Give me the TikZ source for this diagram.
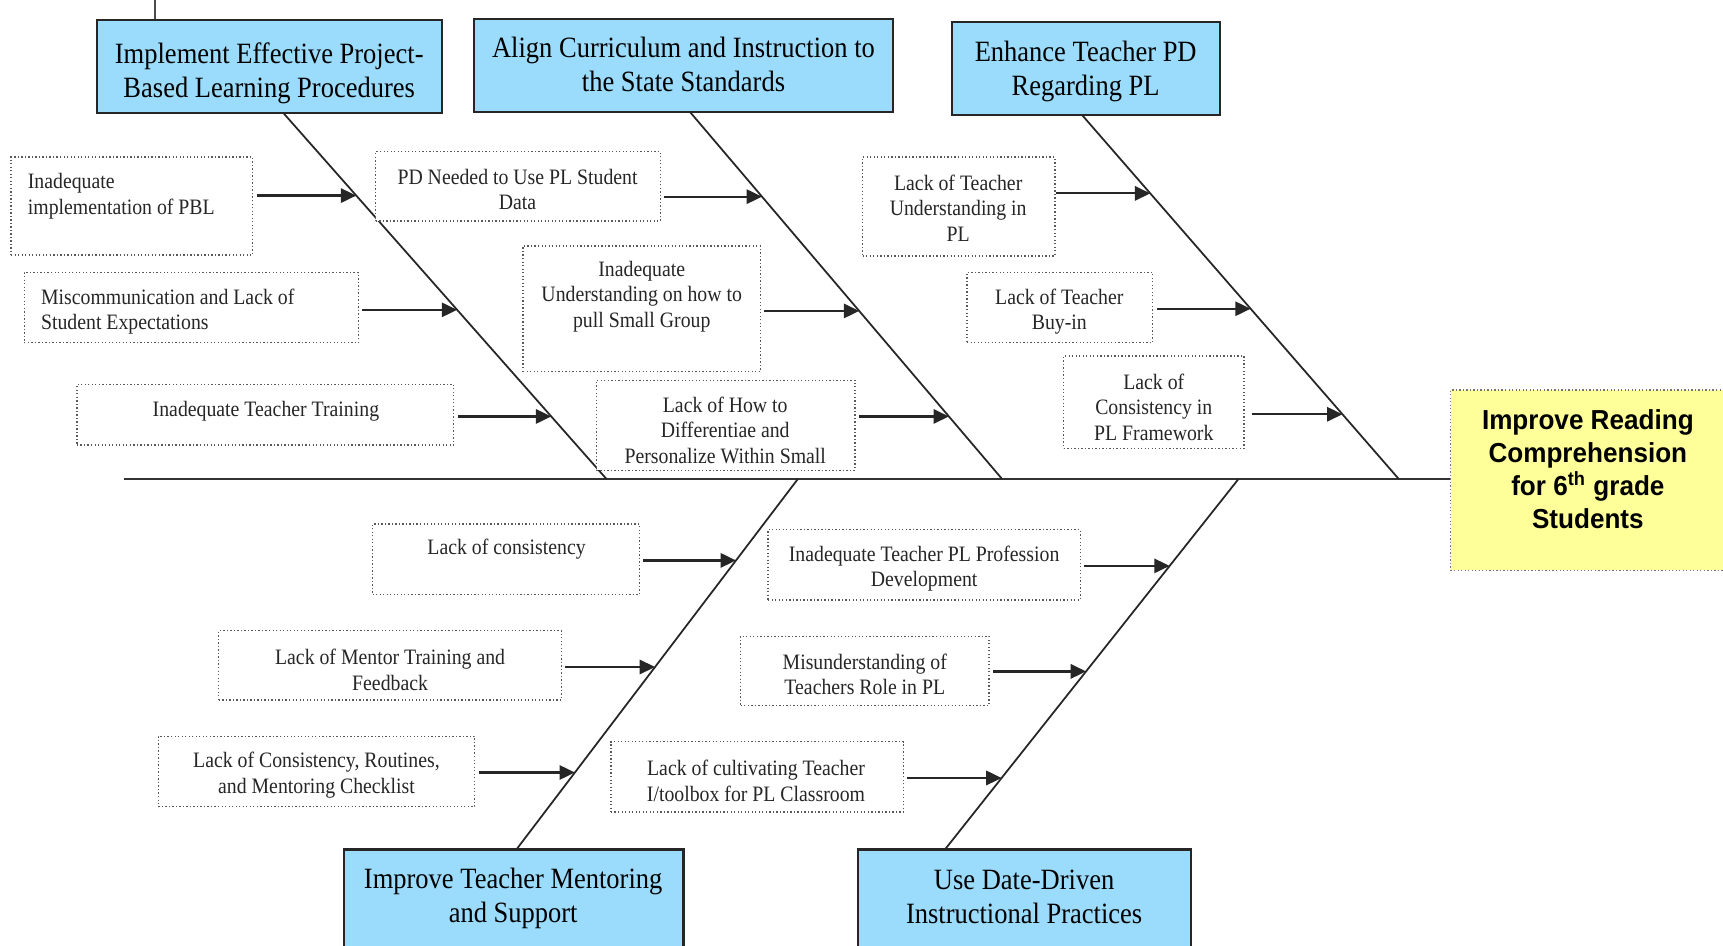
\documentclass[tikz,border=0pt]{standalone}
\usepackage{fontspec}
\setmainfont[FakeStretch=0.9]{Liberation Serif}
\newfontfamily\effsans[FakeStretch=0.95]{Liberation Sans}
\usetikzlibrary{fit,calc,arrows.meta}
\definecolor{catblue}{RGB}{155,220,252}
\definecolor{effyellow}{RGB}{255,255,153}
\tikzset{
  catbox/.style={draw=black!85, line width=1pt, fill=catblue, inner sep=0pt},
  causebox/.style={draw=black!65, densely dotted, line width=0.6pt, fill=white, inner sep=0pt},
  effbox/.style={draw=black!55, densely dotted, line width=0.6pt, fill=effyellow, inner sep=0pt},
  cattext/.style={align=center, inner sep=0pt, yshift=-2pt, font=\fontsize{13.4pt}{15.5pt}\selectfont},
  causetext/.style={align=center, inner sep=0pt, yshift=-1pt, font=\fontsize{10pt}{11.5pt}\selectfont, text=black!85},
  causeleft/.style={causetext, align=left, anchor=west},
  efftext/.style={align=center, inner sep=0pt, font=\effsans\bfseries\fontsize{12.5pt}{15pt}\selectfont},
  bone/.style={line width=0.8pt, draw=black!85},
  spine/.style={line width=1.2pt, draw=black!80},
  arr/.style={line width=1pt, draw=black!85, -{Triangle[length=7pt,width=6.5pt]}},
}
\begin{document}
\begin{tikzpicture}[x=0.5pt,y=-0.5pt]
\useasboundingbox (0,0) rectangle (1568,860);
\clip (0,0) rectangle (1568,860);
\fill[white] (0,0) rectangle (1568,860);

% category boxes
\node[catbox, fit={(88,18) (402,103)}] (b1) {};
\node[cattext] (b1t) at (245,63) {Implement Effective Project-\\Based Learning Procedures};
\node[catbox, fit={(431,17) (813,102)}] (b2) {};
\node[cattext] (b2t) at (622,55) {Align Curriculum and Instruction to\\the State Standards};
\node[catbox, fit={(866,20) (1110,105)}] (b3) {};
\node[cattext] (b3t) at (988,61) {Enhance Teacher PD\\Regarding PL};
\node[catbox, fit={(313,773) (622,880)}] (b4) {};
\node[cattext] (b4t) at (467,814) {Improve Teacher Mentoring\\and Support};
\node[catbox, fit={(781,773) (1084,880)}] (b5) {};
\node[cattext] (b5t) at (932,812) {Use Date-Driven\\Instructional Practices};

% stray tick above first box
\coordinate (tick) at (141,0);
\draw[line width=0.6pt, draw=black!70] (tick) -- (tick |- b1.north);

% effect
\node[effbox, fit={(1320,355) (1585,519)}] (eff) {};
\node[efftext] (efft) at (1445,427) {Improve Reading\\Comprehension\\for 6\textsuperscript{th} grade\\Students};

% spine
\coordinate (spl) at (113,436);
\draw[spine] (spl) -- (eff.west |- spl);

% bones
\coordinate (t1) at (258,103);  \coordinate (s1) at (552,436);
\coordinate (t2) at (628,102);  \coordinate (s2) at (912,436);
\coordinate (t3) at (985,105);  \coordinate (s3) at (1273,436);
\coordinate (u4) at (470,773);  \coordinate (s4) at (726,436);
\coordinate (u5) at (860,773);  \coordinate (s5) at (1127,436);
\draw[bone] (t1) -- (s1);
\draw[bone] (t2) -- (s2);
\draw[bone] (t3) -- (s3);
\draw[bone] (u4) -- (s4);
\draw[bone] (u5) -- (s5);

% arrow ends on bones
\coordinate (a11) at ($(t1)!0.2252!(s1)$);
\coordinate (a12) at ($(t1)!0.5375!(s1)$);
\coordinate (a13) at ($(t1)!0.8288!(s1)$);
\coordinate (a21) at ($(t2)!0.2305!(s2)$);
\coordinate (a22) at ($(t2)!0.5419!(s2)$);
\coordinate (a23) at ($(t2)!0.8293!(s2)$);
\coordinate (a31) at ($(t3)!0.2145!(s3)$);
\coordinate (a32) at ($(t3)!0.5317!(s3)$);
\coordinate (a33) at ($(t3)!0.8218!(s3)$);
\coordinate (a41) at ($(u4)!0.7804!(s4)$);
\coordinate (a42) at ($(u4)!0.4926!(s4)$);
\coordinate (a43) at ($(u4)!0.2077!(s4)$);
\coordinate (a51) at ($(u5)!0.7656!(s5)$);
\coordinate (a52) at ($(u5)!0.4807!(s5)$);
\coordinate (a53) at ($(u5)!0.1929!(s5)$);

% group 1
\node[causebox, fit={(10,143) (230,232)}] (c11) {};
\node[causeleft] (c11t) at (25,176.5) {Inadequate\\implementation of PBL};
\node[causebox, fit={(22,248) (326,312)}] (c12) {};
\node[causeleft] (c12t) at (37,281.5) {Miscommunication and Lack of\\Student Expectations};
\node[causebox, fit={(70,350) (413,405)}] (c13) {};
\node[causetext] (c13t) at (242,372) {Inadequate Teacher Training};

% group 2
\node[causebox, fit={(342,138) (601,201)}] (c21) {};
\node[causetext] (c21t) at (471,170.5) {PD Needed to Use PL Student\\Data};
\node[causebox, fit={(476,224) (692,338)}] (c22) {};
\node[causetext] (c22t) at (584,268) {Inadequate\\Understanding on how to\\pull Small Group};
\node[causebox, fit={(543,346) (778,428)}] (c23) {};
\node[causetext] (c23t) at (660,389.5) {Lack of How to\\Differentiae and\\Personalize Within Small};

% group 3
\node[causebox, fit={(785,143) (960,233)}] (c31) {};
\node[causetext] (c31t) at (872,187.5) {Lack of Teacher\\Understanding in\\PL};
\node[causebox, fit={(880,248) (1049,312)}] (c32) {};
\node[causetext] (c32t) at (964,281.5) {Lack of Teacher\\Buy-in};
\node[causebox, fit={(968,324) (1132,408)}] (c33) {};
\node[causetext] (c33t) at (1050,368.5) {Lack of\\Consistency in\\PL Framework};

% group 4
\node[causebox, fit={(339,477) (582,541)}] (c41) {};
\node[causetext] (c41t) at (461,498) {Lack of consistency};
\node[causebox, fit={(199,574) (511,637)}] (c42) {};
\node[causetext] (c42t) at (355,607.5) {Lack of Mentor Training and\\Feedback};
\node[causebox, fit={(144,670) (432,734)}] (c43) {};
\node[causetext] (c43t) at (288,703.5) {Lack of Consistency, Routines,\\and Mentoring Checklist};

% group 5
\node[causebox, fit={(699,482) (983,546)}] (c51) {};
\node[causetext] (c51t) at (841,515.5) {Inadequate Teacher PL Profession\\Development};
\node[causebox, fit={(674,579) (900,642)}] (c52) {};
\node[causetext] (c52t) at (787,611.5) {Misunderstanding of\\Teachers Role in PL};
\node[causebox, fit={(556,675) (822,739)}] (c53) {};
\node[causetext] (c53t) at (688,708.5) {Lack of cultivating Teacher\\I/toolbox for PL Classroom};

% arrows
\draw[arr] ($(c11.east |- a11)+(3,0)$) -- (a11);
\draw[arr] ($(c12.east |- a12)+(3,0)$) -- (a12);
\draw[arr] ($(c13.east |- a13)+(3,0)$) -- (a13);
\draw[arr] ($(c21.east |- a21)+(3,0)$) -- (a21);
\draw[arr] ($(c22.east |- a22)+(3,0)$) -- (a22);
\draw[arr] ($(c23.east |- a23)+(3,0)$) -- (a23);
\draw[arr] (c31.east |- a31) -- (a31);
\draw[arr] ($(c32.east |- a32)+(3,0)$) -- (a32);
\draw[arr] ($(c33.east |- a33)+(7,0)$) -- (a33);
\draw[arr] ($(c41.east |- a41)+(3,0)$) -- (a41);
\draw[arr] ($(c42.east |- a42)+(3,0)$) -- (a42);
\draw[arr] ($(c43.east |- a43)+(3,0)$) -- (a43);
\draw[arr] ($(c51.east |- a51)+(3,0)$) -- (a51);
\draw[arr] ($(c52.east |- a52)+(3,0)$) -- (a52);
\draw[arr] ($(c53.east |- a53)+(3,0)$) -- (a53);
\end{tikzpicture}
\end{document}
